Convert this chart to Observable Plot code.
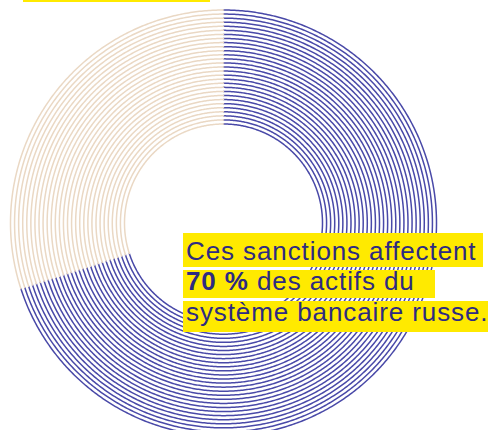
<!DOCTYPE html>
<html><head><meta charset="utf-8">
<script src="https://cdn.jsdelivr.net/npm/d3@7"></script>
<script src="https://cdn.jsdelivr.net/npm/@observablehq/plot@0.6"></script>
<style>
body{margin:0;background:#fff;}
#wrap{position:relative;width:488px;height:430px;overflow:hidden;font-family:"Liberation Sans",sans-serif;color:#2e2b82;}
.hl{position:absolute;background:#ffea00;}
.tx{position:absolute;font-size:26px;line-height:30px;letter-spacing:0.9px;white-space:nowrap;}
#top{position:absolute;left:23px;top:-28px;font-size:22px;line-height:30px;white-space:nowrap;}
#top b{background:#ffea00;display:inline-block;width:183px;padding-left:4px;}
</style></head>
<body><div id="wrap"></div>
<script>
const categories = ["Actifs concernés", "Autres actifs"];
const shares = [70, 30];
const colors = ["#4949a8", "#ead8c4"];
const textLines = ["Ces sanctions affectent", "70 %", " des actifs du", "système bancaire russe."];

const W = 488, H = 430, cx = 223, cy = 222.5, r0 = 99, r1 = 213, rings = 29;
const total = d3.sum(shares);
const pts = [];
let start = 0;
categories.forEach((c, i) => {
  const a0 = start / total * 360, a1 = (start + shares[i]) / total * 360;
  start += shares[i];
  for (let k = 0; k < rings; k++) {
    const r = r0 + (r1 - r0) * k / (rings - 1);
    const n = Math.ceil((a1 - a0) * 2);
    for (let j = 0; j <= n; j++) {
      const a = (a0 + (a1 - a0) * j / n) * Math.PI / 180;
      pts.push({cat: c, ring: k, x: r * Math.sin(a), y: r * Math.cos(a)});
    }
  }
});

const chart = Plot.plot({
  width: W, height: H, margin: 0,
  x: {domain: [-cx, W - cx], axis: null},
  y: {domain: [cy - H, cy], axis: null},
  color: {domain: categories, range: colors},
  marks: [
    Plot.line(pts, {x: "x", y: "y", z: d => d.cat + d.ring, stroke: "cat", strokeWidth: 1.5})
  ]
});
const wrap = document.getElementById("wrap");
wrap.appendChild(chart);

const html = `
<div id="top"><b>7 banques russes</b> exclues,</div>
<div class="hl" style="left:183px;top:233px;width:300px;height:34px"></div>
<div class="hl" style="left:183px;top:270px;width:252px;height:28px"></div>
<div class="hl" style="left:183px;top:301px;width:305px;height:31px"></div>
<div class="tx" style="left:186px;top:236px">${textLines[0]}</div>
<div class="tx" style="left:186px;top:266px"><b>${textLines[1]}</b>${textLines[2]}</div>
<div class="tx" style="left:186px;top:297px">${textLines[3]}</div>`;
wrap.insertAdjacentHTML("beforeend", html);
</script></body></html>
